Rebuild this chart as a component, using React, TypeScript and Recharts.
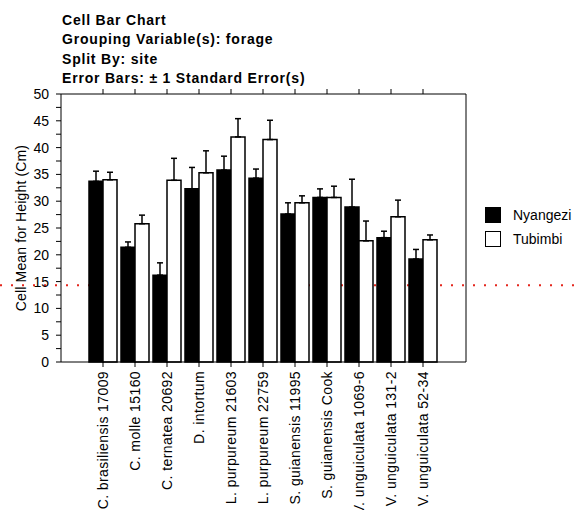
import { Bar, BarChart, ErrorBar, Label, XAxis, YAxis } from "recharts";

const categories = [
  "C. brasiliensis 17009",
  "C. molle 15160",
  "C. ternatea 20692",
  "D. intortum",
  "L. purpureum 21603",
  "L. purpureum 22759",
  "S. guianensis 11995",
  "S. guianensis Cook",
  "V. unguiculata 1069-6",
  "V. unguiculata 131-2",
  "V. unguiculata 52-34",
];
const nyangezi = [33.7, 21.4, 16.2, 32.3, 35.8, 34.3, 27.6, 30.7, 28.9, 23.2, 19.2];
const nyangeziSE = [1.9, 1.0, 2.3, 4.0, 2.6, 1.7, 2.1, 1.6, 5.2, 1.2, 1.8];
const tubimbi = [34.0, 25.8, 33.9, 35.3, 42.0, 41.5, 29.7, 30.7, 22.6, 27.1, 22.8];
const tubimbiSE = [1.4, 1.6, 4.1, 4.1, 3.4, 3.6, 1.3, 2.1, 3.7, 3.1, 0.9];
const yTicks = [0, 2.5, 5, 7.5, 10, 12.5, 15, 17.5, 20, 22.5, 25, 27.5, 30, 32.5, 35, 37.5, 40, 42.5, 45, 47.5, 50];
const titleLines = [
  "Cell Bar Chart",
  "Grouping Variable(s): forage",
  "Split By: site",
  "Error Bars: \u00b1 1 Standard Error(s)",
];
const seriesNames = ["Nyangezi", "Tubimbi"];
const cutLine = 14.3;

const data = categories.map((name, i) => ({
  name,
  Nyangezi: nyangezi[i],
  Tubimbi: tubimbi[i],
  nErr: [0, nyangeziSE[i]],
  tErr: [0, tubimbiSE[i]],
}));

const font = "'Liberation Sans', Arial, sans-serif";
const fills = ["#000", "#fff"];
const W = 582;
const H = 510;
const plotTop = 94;
const plotBottom = 362;
const yMax = 50;

function XTick(props: any) {
  const { x, y, payload } = props;
  return (
    <text
      x={x}
      y={y}
      dy="0.35em"
      textAnchor="end"
      transform={`rotate(-90, ${x}, ${y})`}
      fontSize={14}
      letterSpacing={0.4}
      fontFamily={font}
      fill="#000"
    >
      {payload.value}
    </text>
  );
}

function LegendBox() {
  return (
    <div
      style={{
        position: "absolute",
        left: 485,
        top: 203,
        fontFamily: font,
        fontSize: 14,
        color: "#000",
      }}
    >
      {seriesNames.map((name, i) => (
        <div key={name} style={{ display: "flex", alignItems: "center", height: 24 }}>
          <span
            style={{
              width: 16,
              height: 16,
              boxSizing: "border-box",
              background: fills[i],
              border: "1.5px solid #000",
              marginRight: 12,
              display: "inline-block",
            }}
          />
          <span>{name}</span>
        </div>
      ))}
    </div>
  );
}

// red dotted line sits underneath the chart, so the bars cover it
function DottedBackdrop() {
  const y = plotTop + (1 - cutLine / yMax) * (plotBottom - plotTop);
  return (
    <svg width={W} height={H} style={{ position: "absolute", left: 0, top: 0 }}>
      <line
        x1={0}
        x2={W}
        y1={y}
        y2={y}
        stroke="#e4261c"
        strokeWidth={2}
        strokeDasharray="2 9"
      />
    </svg>
  );
}

export default function App() {
  return (
    <div style={{ position: "relative", width: W, height: H, background: "#fff" }}>
      <style>{`body{margin:0}`}</style>
      <DottedBackdrop />
      <div style={{ position: "absolute", left: 0, top: 0 }}>
        <BarChart
          width={W}
          height={H}
          data={data}
          margin={{ top: plotTop - 1, right: 66, bottom: 8, left: 11 }}
          barCategoryGap={2}
          barGap={0}
        >
          <XAxis
            dataKey="name"
            interval={0}
            height={140}
            padding={{ left: 26, right: 27 }}
            stroke="#000"
            tickSize={5}
            tickMargin={4}
            tick={<XTick />}
          />
          <XAxis
            xAxisId="top"
            dataKey="name"
            orientation="top"
            interval={0}
            height={1}
            padding={{ left: 26, right: 27 }}
            stroke="#000"
            tickSize={5}
            tickFormatter={() => ""}
          />
          <YAxis
            width={50}
            domain={[0, yMax]}
            ticks={yTicks}
            interval={0}
            stroke="#000"
            tickSize={5}
            tickMargin={7}
            tick={{ fontSize: 14, fontFamily: font, fill: "#000" }}
            tickFormatter={(v: number) => (v % 5 === 0 ? String(v) : "")}
          >
            <Label
              content={(p: any) => {
                const vb = p.viewBox;
                const cx = vb.x + 10;
                const cy = vb.y + vb.height / 2;
                return (
                  <text
                    x={cx}
                    y={cy}
                    dy="0.35em"
                    textAnchor="middle"
                    transform={`rotate(-90, ${cx}, ${cy})`}
                    fontSize={14}
                    letterSpacing={0.15}
                    fontFamily={font}
                    fill="#000"
                  >
                    Cell Mean for Height (Cm)
                  </text>
                );
              }}
            />
          </YAxis>
          <YAxis
            yAxisId="right"
            orientation="right"
            width={50}
            domain={[0, yMax]}
            ticks={yTicks}
            interval={0}
            stroke="#000"
            tickSize={5}
            tickFormatter={() => ""}
          />
          <Bar dataKey={seriesNames[0]} fill={fills[0]} stroke="#000" strokeWidth={1.5} isAnimationActive={false}>
            <ErrorBar dataKey="nErr" direction="y" width={3} stroke="#000" strokeWidth={1.5} />
          </Bar>
          <Bar dataKey={seriesNames[1]} fill={fills[1]} stroke="#000" strokeWidth={1.5} isAnimationActive={false}>
            <ErrorBar dataKey="tErr" direction="y" width={3} stroke="#000" strokeWidth={1.5} />
          </Bar>
        </BarChart>
      </div>
      <svg
        width={W}
        height={100}
        style={{ position: "absolute", left: 0, top: 0, pointerEvents: "none" }}
      >
        {titleLines.map((t, i) => (
          <text
            key={t}
            x={62}
            y={25 + i * 19.4}
            fontSize={14}
            fontWeight="bold"
            letterSpacing={0.8}
            fontFamily={font}
            fill="#000"
          >
            {t}
          </text>
        ))}
      </svg>
      <LegendBox />
    </div>
  );
}
